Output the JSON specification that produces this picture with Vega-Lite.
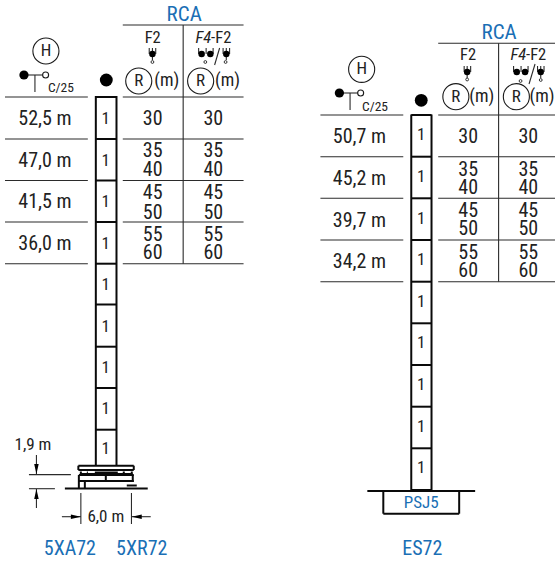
{"$schema":"https://vega.github.io/schema/vega-lite/v6.json","width":556,"height":562,"autosize":{"type":"fit","contains":"padding"},"padding":0,"background":"white","config":{"view":{"stroke":null}},
"encoding":{"x":{"field":"x","type":"quantitative","axis":null,"scale":{"domain":[0,556],"nice":false,"zero":false}},"y":{"field":"y","type":"quantitative","axis":null,"scale":{"domain":[562,0],"nice":false,"zero":false}}},
"layer":[
{"data":{"values":[
{"x":5,"x2":88,"y":97,"y2":97},{"x":5,"x2":88,"y":139,"y2":139},{"x":5,"x2":88,"y":180.5,"y2":180.5},{"x":5,"x2":88,"y":222,"y2":222},{"x":5,"x2":88,"y":263.7,"y2":263.7},
{"x":123,"x2":244,"y":25,"y2":25},{"x":123,"x2":244,"y":97,"y2":97},{"x":123,"x2":244,"y":139,"y2":139},{"x":123,"x2":244,"y":180.5,"y2":180.5},{"x":123,"x2":244,"y":222,"y2":222},{"x":123,"x2":244,"y":263.7,"y2":263.7},
{"x":183.5,"x2":183.5,"y":25,"y2":263.7},
{"x":321,"x2":404,"y":115,"y2":115},{"x":321,"x2":404,"y":156.7,"y2":156.7},{"x":321,"x2":404,"y":198.3,"y2":198.3},{"x":321,"x2":404,"y":240,"y2":240},{"x":321,"x2":404,"y":281.7,"y2":281.7},
{"x":439,"x2":556,"y":43.3,"y2":43.3},{"x":439,"x2":556,"y":115,"y2":115},{"x":439,"x2":556,"y":156.7,"y2":156.7},{"x":439,"x2":556,"y":198.3,"y2":198.3},{"x":439,"x2":556,"y":240,"y2":240},{"x":439,"x2":556,"y":281.7,"y2":281.7},
{"x":499.5,"x2":499.5,"y":43.3,"y2":281.7},
{"x":29,"x2":71,"y":474.6,"y2":474.6},{"x":29,"x2":55,"y":488.7,"y2":488.7},
{"x":36.5,"x2":36.5,"y":455,"y2":474},{"x":36.5,"x2":36.5,"y":489,"y2":508},
{"x":81,"x2":81,"y":493,"y2":524},{"x":131.7,"x2":131.7,"y":493,"y2":524},
{"x":62,"x2":81,"y":516.7,"y2":516.7},{"x":132,"x2":151,"y":516.7,"y2":516.7},
{"x":24,"x2":45,"y":75,"y2":75},{"x":35,"x2":35,"y":75,"y2":92},
{"x":340,"x2":361,"y":93,"y2":93},{"x":350.7,"x2":350.7,"y":93,"y2":110},
{"x":215,"x2":220,"y":65,"y2":48},{"x":530,"x2":536,"y":84,"y2":64},
{"x":149.5,"x2":149.5,"y":48,"y2":54},{"x":156,"x2":156,"y":48,"y2":54},{"x":152.7,"x2":152.7,"y":48,"y2":60},
{"x":199,"x2":199,"y":48,"y2":54},{"x":213.5,"x2":213.5,"y":48,"y2":54},{"x":206.5,"x2":206.5,"y":48,"y2":54},{"x":223.5,"x2":223.5,"y":48,"y2":54},{"x":230,"x2":230,"y":48,"y2":54},{"x":226.7,"x2":226.7,"y":48,"y2":60},
{"x":465,"x2":465,"y":66,"y2":72},{"x":471.5,"x2":471.5,"y":66,"y2":72},{"x":468,"x2":468,"y":66,"y2":78},
{"x":514.5,"x2":514.5,"y":66,"y2":72},{"x":522,"x2":522,"y":66,"y2":72},{"x":529,"x2":529,"y":66,"y2":72},{"x":538.5,"x2":538.5,"y":66,"y2":72},{"x":545,"x2":545,"y":66,"y2":72},{"x":541.7,"x2":541.7,"y":66,"y2":78}
]},"mark":{"type":"rule","stroke":"#2b2b2b","strokeWidth":1.1},"encoding":{"x2":{"field":"x2"},"y2":{"field":"y2"}}},
{"data":{"values":[
{"x":96,"x2":96,"y":96,"y2":466},{"x":116.7,"x2":116.7,"y":96,"y2":466},
{"x":96,"x2":116.7,"y":97,"y2":97},{"x":96,"x2":116.7,"y":139,"y2":139},{"x":96,"x2":116.7,"y":180.5,"y2":180.5},{"x":96,"x2":116.7,"y":222,"y2":222},{"x":96,"x2":116.7,"y":263.7,"y2":263.7},{"x":96,"x2":116.7,"y":304.5,"y2":304.5},{"x":96,"x2":116.7,"y":346.7,"y2":346.7},{"x":96,"x2":116.7,"y":388,"y2":388},{"x":96,"x2":116.7,"y":429.7,"y2":429.7},
{"x":412,"x2":412,"y":114.5,"y2":490},{"x":432.3,"x2":432.3,"y":114.5,"y2":490},
{"x":412,"x2":432.3,"y":115,"y2":115},{"x":412,"x2":432.3,"y":156.7,"y2":156.7},{"x":412,"x2":432.3,"y":198.3,"y2":198.3},{"x":412,"x2":432.3,"y":240,"y2":240},{"x":412,"x2":432.3,"y":281.7,"y2":281.7},{"x":412,"x2":432.3,"y":323.3,"y2":323.3},{"x":412,"x2":432.3,"y":365,"y2":365},{"x":412,"x2":432.3,"y":406.7,"y2":406.7},{"x":412,"x2":432.3,"y":448.3,"y2":448.3},{"x":412,"x2":432.3,"y":490,"y2":490},
{"x":368,"x2":476,"y":491,"y2":491},{"x":384,"x2":384,"y":491,"y2":513.7},{"x":460,"x2":460,"y":491,"y2":513.7},{"x":384,"x2":460,"y":513.7,"y2":513.7},
{"x":65,"x2":148,"y":488.5,"y2":488.5},
{"x":78.5,"x2":134,"y":465.7,"y2":465.7},{"x":78.5,"x2":134,"y":470,"y2":470},{"x":78.5,"x2":78.5,"y":465.7,"y2":470},{"x":134,"x2":134,"y":465.7,"y2":470},{"x":79,"x2":134,"y":475,"y2":475},{"x":79,"x2":134,"y":481,"y2":481},{"x":79,"x2":79,"y":475,"y2":488},{"x":85,"x2":85,"y":481,"y2":488},{"x":133,"x2":133,"y":475,"y2":482},{"x":106,"x2":106,"y":475,"y2":481},{"x":127,"x2":137,"y":485.5,"y2":485.5},{"x":80,"x2":133,"y":472.5,"y2":472.5},{"x":80,"x2":133,"y":474,"y2":474}
]},"mark":{"type":"rule","stroke":"#0a0a0a","strokeWidth":2},"encoding":{"x2":{"field":"x2"},"y2":{"field":"y2"}}},
{"data":{"values":[{"x":82,"x2":87,"y":472,"y2":472},{"x":88,"x2":95,"y":472,"y2":472},{"x":118,"x2":123,"y":472,"y2":472},{"x":125,"x2":131,"y":472,"y2":472}]},"mark":{"type":"rule","stroke":"white","strokeWidth":2},"encoding":{"x2":{"field":"x2"},"y2":{"field":"y2"}}},
{"data":{"values":[{"x":46,"y":51},{"x":139,"y":81},{"x":201,"y":81},{"x":362.3,"y":69.3},{"x":456.7,"y":96.7},{"x":517.3,"y":96.7}]},"mark":{"type":"point","filled":false,"stroke":"#1a1a1a","strokeWidth":1.1,"size":680,"opacity":1}},
{"data":{"values":[{"x":106.5,"y":80},{"x":422,"y":100.3}]},"mark":{"type":"point","filled":true,"fill":"#000","size":165,"opacity":1}},
{"data":{"values":[{"x":24,"y":75},{"x":340,"y":93}]},"mark":{"type":"point","filled":true,"fill":"#000","size":85,"opacity":1}},
{"data":{"values":[{"x":45.7,"y":75},{"x":361.3,"y":93}]},"mark":{"type":"point","filled":true,"fill":"#fff","stroke":"#1a1a1a","strokeWidth":1.1,"size":36,"opacity":1}},
{"data":{"values":[{"x":152.7,"y":54},{"x":202,"y":54},{"x":210.7,"y":54},{"x":226.7,"y":54},{"x":468,"y":72},{"x":517.7,"y":72},{"x":526,"y":72},{"x":541.7,"y":72}]},"mark":{"type":"point","filled":true,"fill":"#000","size":42,"opacity":1}},
{"data":{"values":[{"x":152.7,"y":62},{"x":205.7,"y":62},{"x":226,"y":62},{"x":468,"y":79.5},{"x":521.5,"y":81},{"x":541.7,"y":80}]},"mark":{"type":"point","filled":false,"stroke":"#222","strokeWidth":0.9,"size":8,"opacity":1}},
{"data":{"values":[{"x":36.5,"y":469,"dir":"down"},{"x":36.5,"y":494,"dir":"up"},{"x":76,"y":516.7,"dir":"right"},{"x":137,"y":516.7,"dir":"left"}]},"mark":{"type":"point","filled":true,"fill":"#000","size":100,"opacity":1},"encoding":{"shape":{"field":"dir","type":"nominal","legend":null,"scale":{"domain":["down","up","right","left"],"range":["M-0.45,-1L0.45,-1L0,1Z","M-0.45,1L0.45,1L0,-1Z","M-1,-0.45L-1,0.45L1,0Z","M1,-0.45L1,0.45L-1,0Z"]}}}},
{"data":{"values":[
{"x":45,"y":119,"t":"52,5 m"},{"x":45,"y":160.5,"t":"47,0 m"},{"x":45,"y":202,"t":"41,5 m"},{"x":45,"y":243.5,"t":"36,0 m"},
{"x":153,"y":119,"t":"30"},{"x":153,"y":151,"t":"35"},{"x":153,"y":170,"t":"40"},{"x":153,"y":193,"t":"45"},{"x":153,"y":212.5,"t":"50"},{"x":153,"y":235,"t":"55"},{"x":153,"y":253,"t":"60"},
{"x":213.7,"y":119,"t":"30"},{"x":213.7,"y":151,"t":"35"},{"x":213.7,"y":170,"t":"40"},{"x":213.7,"y":193,"t":"45"},{"x":213.7,"y":212.5,"t":"50"},{"x":213.7,"y":235,"t":"55"},{"x":213.7,"y":253,"t":"60"},
{"x":360,"y":137,"t":"50,7 m"},{"x":360,"y":179,"t":"45,2 m"},{"x":360,"y":221,"t":"39,7 m"},{"x":360,"y":262,"t":"34,2 m"},
{"x":469,"y":137,"t":"30"},{"x":469,"y":170,"t":"35"},{"x":469,"y":188,"t":"40"},{"x":469,"y":211,"t":"45"},{"x":469,"y":229.3,"t":"50"},{"x":469,"y":253,"t":"55"},{"x":469,"y":270.7,"t":"60"},
{"x":529.3,"y":137,"t":"30"},{"x":529.3,"y":170,"t":"35"},{"x":529.3,"y":188,"t":"40"},{"x":529.3,"y":211,"t":"45"},{"x":529.3,"y":229.3,"t":"50"},{"x":529.3,"y":253,"t":"55"},{"x":529.3,"y":270.7,"t":"60"}
]},"mark":{"type":"text","font":"Roboto Condensed, Liberation Sans","fontSize":20,"fill":"#222","baseline":"middle","align":"center"},"encoding":{"text":{"field":"t"}}},
{"data":{"values":[{"x":167,"y":81,"t":"(m)"},{"x":228,"y":81,"t":"(m)"},{"x":482.7,"y":97,"t":"(m)"},{"x":543,"y":97,"t":"(m)"}]},"mark":{"type":"text","font":"Roboto Condensed, Liberation Sans","fontSize":18,"fill":"#222","baseline":"middle","align":"center"},"encoding":{"text":{"field":"t"}}},
{"data":{"values":[
{"x":106,"y":119,"t":"1"},{"x":106,"y":160.5,"t":"1"},{"x":106,"y":202,"t":"1"},{"x":106,"y":243.5,"t":"1"},{"x":106,"y":285,"t":"1"},{"x":106,"y":327,"t":"1"},{"x":106,"y":367.5,"t":"1"},{"x":106,"y":409,"t":"1"},{"x":106,"y":449,"t":"1"},
{"x":422,"y":135,"t":"1"},{"x":422,"y":177,"t":"1"},{"x":422,"y":218.5,"t":"1"},{"x":422,"y":260,"t":"1"},{"x":422,"y":302,"t":"1"},{"x":422,"y":343,"t":"1"},{"x":422,"y":385,"t":"1"},{"x":422,"y":427,"t":"1"},{"x":422,"y":468,"t":"1"},
{"x":46,"y":51,"t":"H"},{"x":139,"y":81,"t":"R"},{"x":201,"y":81,"t":"R"},{"x":362.3,"y":69.3,"t":"H"},{"x":456.7,"y":97,"t":"R"},{"x":517.3,"y":97,"t":"R"},
{"x":33,"y":445,"t":"1,9 m"},{"x":106,"y":517,"t":"6,0 m"}
]},"mark":{"type":"text","font":"Roboto Condensed, Liberation Sans","fontSize":17,"fill":"#222","baseline":"middle","align":"center"},"encoding":{"text":{"field":"t"}}},
{"data":{"values":[{"x":153,"y":38,"t":"F2"},{"x":469,"y":55,"t":"F2"}]},"mark":{"type":"text","font":"Roboto Condensed, Liberation Sans","fontSize":16.5,"fill":"#222","baseline":"middle","align":"center"},"encoding":{"text":{"field":"t"}}},
{"data":{"values":[{"x":211.5,"y":38,"t":"F4"},{"x":527,"y":55,"t":"F4"}]},"mark":{"type":"text","font":"Roboto Condensed, Liberation Sans","fontStyle":"italic","fontSize":16.5,"fill":"#222","baseline":"middle","align":"right"},"encoding":{"text":{"field":"t"}}},
{"data":{"values":[{"x":211.5,"y":38,"t":"-F2"},{"x":527,"y":55,"t":"-F2"}]},"mark":{"type":"text","font":"Roboto Condensed, Liberation Sans","fontSize":16.5,"fill":"#222","baseline":"middle","align":"left"},"encoding":{"text":{"field":"t"}}},
{"data":{"values":[{"x":48,"y":92,"t":"C/25"},{"x":362.7,"y":110.5,"t":"C/25"}]},"mark":{"type":"text","font":"Roboto Condensed, Liberation Sans","fontSize":13.5,"fill":"#222","baseline":"alphabetic","align":"left"},"encoding":{"text":{"field":"t"}}},
{"data":{"values":[{"x":184.5,"y":15,"t":"RCA"},{"x":500,"y":33,"t":"RCA"}]},"mark":{"type":"text","font":"Roboto Condensed, Liberation Sans","fontSize":21,"fill":"#1a6fb5","baseline":"middle","align":"center"},"encoding":{"text":{"field":"t"}}},
{"data":{"values":[{"x":70,"y":549,"t":"5XA72"},{"x":142,"y":549,"t":"5XR72"},{"x":423,"y":549,"t":"ES72"}]},"mark":{"type":"text","font":"Roboto Condensed, Liberation Sans","fontSize":20,"fill":"#1a6fb5","baseline":"middle","align":"center"},"encoding":{"text":{"field":"t"}}},
{"data":{"values":[{"x":422,"y":503,"t":"PSJ5"}]},"mark":{"type":"text","font":"Roboto Condensed, Liberation Sans","fontSize":17,"fill":"#1a6fb5","baseline":"middle","align":"center"},"encoding":{"text":{"field":"t"}}}
]}
